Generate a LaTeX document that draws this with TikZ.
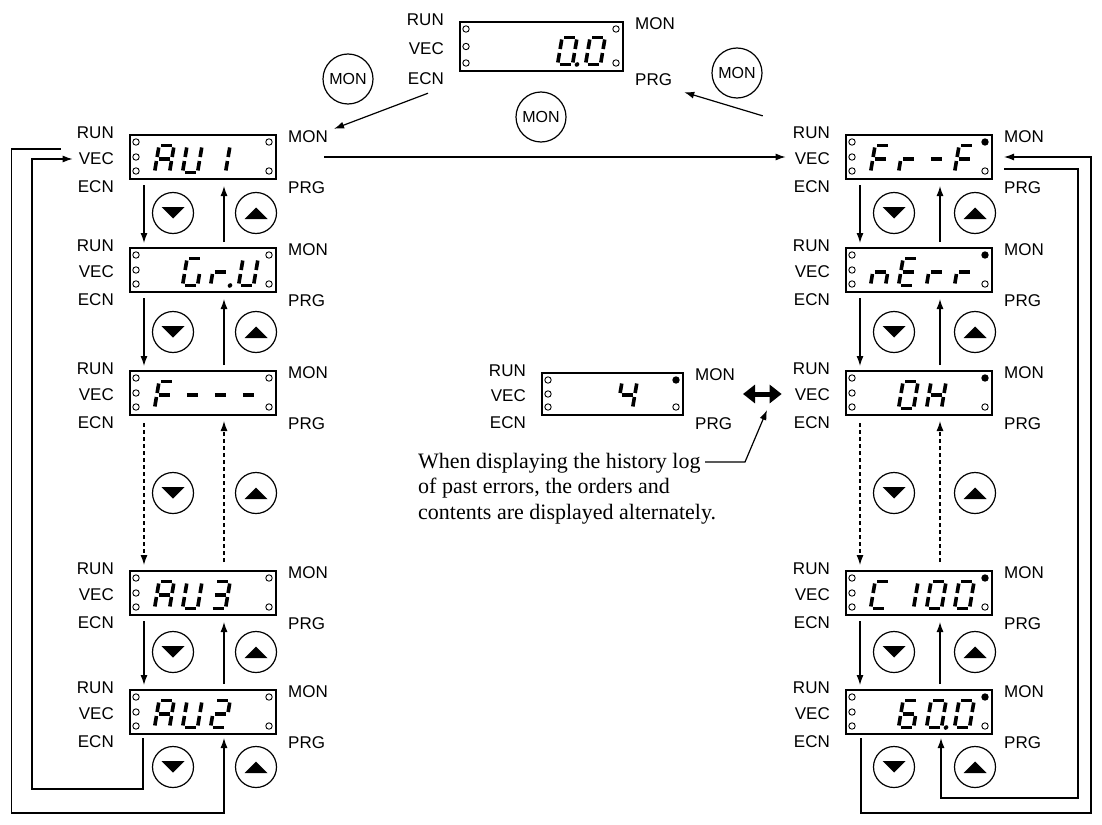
\documentclass[tikz,border=0pt]{standalone}
\usepackage{fontspec}
\setmainfont{Liberation Sans}
\newfontfamily\notefont{Liberation Serif}
\usetikzlibrary{arrows.meta, positioning}

% seven segment look of the panel read-out
\newcommand{\defseg}[2]{\expandafter\def\csname sgm-#1\endcsname{#2}}
\newcommand{\defchar}[2]{\expandafter\def\csname chr-#1\endcsname{#2}}
\defseg{a}{(2,27)--(13,27)}
\defseg{b}{(15,25)--(15,15.5)}
\defseg{c}{(15,11.5)--(15,2)}
\defseg{d}{(2,0)--(13,0)}
\defseg{e}{(0,2)--(0,11.5)}
\defseg{f}{(0,15.5)--(0,25)}
\defseg{g}{(2,13.5)--(13,13.5)}
\defchar{0}{a,b,c,d,e,f}
\defchar{1}{b,c}
\defchar{2}{a,b,g,e,d}
\defchar{3}{a,b,g,c,d}
\defchar{4}{f,g,b,c}
\defchar{6}{a,f,g,e,d,c}
\defchar{A}{a,b,c,e,f,g}
\defchar{U}{b,c,d,e,f}
\defchar{F}{a,f,g,e}
\defchar{r}{e,g}
\defchar{-}{g}
\defchar{G}{a,f,e,d,c}
\defchar{n}{e,g,c}
\defchar{E}{a,f,g,e,d}
\defchar{C}{a,f,e,d}
\defchar{H}{b,c,e,f,g}

\tikzset{
  dnkey/.pic={\draw[keyline] (0,0) circle[radius=20.5pt];
    \fill (-11.5,-6) -- (11.5,-6) -- (0,5.5) -- cycle;},
  upkey/.pic={\draw[keyline] (0,0) circle[radius=20.5pt];
    \fill (-11.5,6) -- (11.5,6) -- (0,-5.5) -- cycle;}
}

% #1 size, #2 name, #3 centre, #4 cell/glyph/point, #5 MON lamp
\newcommand{\panel}[5][]{%
  \node[disp,#1] (#2) at #3 {};
  \node[lbl, anchor=east] (#2-run) at ([xshift=-15pt,yshift=1pt]#2.north west) {RUN};
  \node[lbl, anchor=east] (#2-vec) at ([xshift=-15pt,yshift=-2pt]#2.west) {VEC};
  \node[lbl, anchor=east] (#2-ecn) at ([xshift=-15pt,yshift=-7pt]#2.south west) {ECN};
  \node[lbl, anchor=west] (#2-mon) at ([xshift=11pt,yshift=-3pt]#2.north east) {MON};
  \node[lbl, anchor=west] (#2-prg) at ([xshift=11pt,yshift=-8pt]#2.south east) {PRG};
  \draw[led] ([xshift=7pt,yshift=-8pt]#2.north west) circle[radius=3.2pt];
  \draw[led] ([xshift=7pt]#2.west) circle[radius=3.2pt];
  \draw[led] ([xshift=7pt,yshift=9pt]#2.south west) circle[radius=3.2pt];
  \draw[led] ([xshift=-8pt,yshift=9pt]#2.south east) circle[radius=3.2pt];
  \draw[led,#5] ([xshift=-8pt,yshift=-8pt]#2.north east) circle[radius=3.2pt];
  \foreach \cellno/\glyph/\pnt in {#4} {
    \edef\seglist{\csname chr-\glyph\endcsname}
    \begin{scope}[shift={([xshift={(-38.5-28*(3-\cellno))*1pt},yshift=7.5pt]#2.south east)},
        yscale=-1, xslant=-0.17]
      \foreach \s in \seglist {\edef\segp{\csname sgm-\s\endcsname}\draw[segline] \segp;}
      \ifnum\pnt=1 \fill (19.5,0) circle[radius=2.3pt];\fi
    \end{scope}
  }
}

\begin{document}
\begin{tikzpicture}[x=1pt, y=-1pt,
    >={Latex[length=10pt,width=7pt]},
    disp/.style={draw, line width=2pt, minimum width=146pt, minimum height=44pt, inner sep=0pt},
    lbl/.style={inner sep=0pt, font=\fontsize{17}{19}\selectfont},
    led/.style={line width=0.9pt},
    segline/.style={line width=3.6pt},
    keyline/.style={line width=1.2pt},
    monkey/.style={draw, circle, line width=1.2pt, minimum size=50pt, inner sep=0pt, font=\fontsize{16}{18}\selectfont},
    conn/.style={line width=1.2pt, ->},
    dbl/.style={line width=5pt, {Triangle[length=12pt,width=18pt]}-{Triangle[length=12pt,width=18pt]}},
    note/.style={anchor=north west, align=left, inner sep=0pt, font=\notefont\fontsize{22}{25.5}\selectfont}]
  \useasboundingbox (0,0) rectangle (1102,824);

  % top display and MON keys
  \panel[minimum width=163pt, minimum height=49pt]{T}{(541.5,46.5)}{2/0/1,3/0/0}{}
  \node[monkey] (mon1) at (348,79) {MON};
  \node[monkey] (mon2) at (541,117) {MON};
  \node[monkey] (mon3) at (737,73) {MON};

  % left column
  \panel{L1}{(203,157)}{0/A/0,1/U/0,2/1/0}{}
  \panel{L2}{(203,270)}{1/G/0,2/r/1,3/U/0}{}
  \panel{L3}{(203,393)}{0/F/0,1/-/0,2/-/0,3/-/0}{}
  \panel{L4}{(203,593)}{0/A/0,1/U/0,2/3/0}{}
  \panel{L5}{(203,712)}{0/A/0,1/U/0,2/2/0}{}

  % right column
  \panel{R1}{(919,157)}{0/F/0,1/r/0,2/-/0,3/F/0}{fill}
  \panel{R2}{(919,270)}{0/n/0,1/E/0,2/r/0,3/r/0}{fill}
  \panel{R3}{(919,393)}{1/0/0,2/H/0}{fill}
  \panel{R4}{(919,593)}{0/C/0,1/1/0,2/0/0,3/0/0}{fill}
  \panel{R5}{(919,712)}{1/6/0,2/0/1,3/0/0}{fill}

  % middle display
  \panel[minimum width=141pt, minimum height=42pt]{M}{(612.5,394)}{2/4/0}{fill}

  % up and down keys
  \foreach \ky [count=\i] in {213,332,493,652,767} {
    \pic (ld\i) at (173,\ky) {dnkey};
    \pic (lu\i) at (256,\ky) {upkey};
    \pic (rd\i) at (894,\ky) {dnkey};
    \pic (ru\i) at (975,\ky) {upkey};
  }

  % steps in the columns
  \foreach \a/\b in {L1/L2, L2/L3, L4/L5, R1/R2, R2/R3, R4/R5} {
    \draw[conn] ([xshift=15pt,yshift=-5pt]\a.south west) -- ([xshift=15pt,yshift=4pt]\b.north west);
    \draw[conn] ([xshift=95pt,yshift=5pt]\b.north west) -- ([xshift=95pt,yshift=-6pt]\a.south west);
  }
  \foreach \a/\b in {L3/L4, R3/R4} {
    \draw[conn, dash pattern=on 4pt off 3pt] ([xshift=15pt,yshift=-7pt]\a.south west) -- ([xshift=15pt,yshift=5pt]\b.north west);
    \draw[conn, dash pattern=on 4pt off 3pt] ([xshift=95pt,yshift=8pt]\b.north west) -- ([xshift=95pt,yshift=-5pt]\a.south west);
  }

  % wrap round
  \draw[conn] ([xshift=14pt,yshift=-3pt]L5.south west) |- ++(-111,51) |- ([xshift=-6pt]L1-vec.west);
  \draw[conn] ([xshift=-18pt,yshift=10pt]L1-vec.west) -| ++(-49,664) -| ([xshift=95pt,yshift=-3pt]L5.south west);
  \draw[conn] ([xshift=16pt,yshift=-3pt]R5.south west) |- ++(230,75) |- ([xshift=11pt]R1.east);
  \draw[conn] ([xshift=11pt,yshift=-12pt]R1.east) -| ++(74,629) -| ([xshift=96pt,yshift=-3pt]R5.south west);

  % MON key moves
  \draw[conn] ([xshift=-16pt,yshift=-8pt]T-ecn.south east) -- ([xshift=6pt,yshift=2pt]L1-mon.north east);
  \draw[conn] ([xshift=-30pt,yshift=11pt]R1-run.north west) -- ([xshift=12pt,yshift=-6pt]T-prg.south east);
  \coordinate (hz) at (R1-vec.west |- L1.east);
  \draw[conn] ([xshift=47pt]L1.east) -- ([xshift=-9pt]hz);

  % error history
  \coordinate (dblL) at ([xshift=59pt]M.east);
  \coordinate (dblR) at (M.east -| R3-vec.west);
  \draw[dbl] (dblL) -- ([xshift=-13pt]dblR);
  \node[note] (note) at (418,453) {When displaying the history log\\of past errors, the orders and\\contents are displayed alternately.};
  \coordinate (logend) at (705,462);
  \draw[conn] (logend) -- ++(40,0) -- ([xshift=24pt,yshift=-16pt]dblL);
\end{tikzpicture}
\end{document}
